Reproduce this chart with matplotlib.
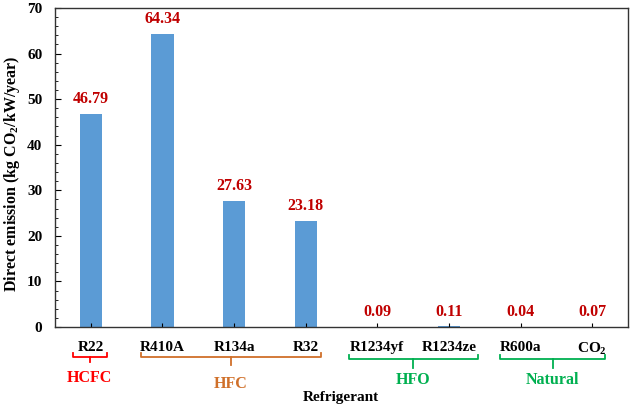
import matplotlib
matplotlib.use("Agg")
import matplotlib.pyplot as plt
from matplotlib.ticker import MultipleLocator
from matplotlib.transforms import blended_transform_factory

plt.rcParams['font.family'] = ['Liberation Serif', 'DejaVu Serif']
plt.rcParams['font.weight'] = 'bold'
plt.rcParams['mathtext.fontset'] = 'custom'
plt.rcParams['mathtext.rm'] = 'Liberation Serif:bold'
plt.rcParams['mathtext.bf'] = 'Liberation Serif:bold'
plt.rcParams['mathtext.it'] = 'Liberation Serif:bold'

categories = ['R22', 'R410A', 'R134a', 'R32', 'R1234yf', 'R1234ze', 'R600a', 'CO$_2$']
values = [46.79, 64.34, 27.63, 23.18, 0.09, 0.11, 0.04, 0.07]
value_labels = ['46.79', '64.34', '27.63', '23.18', '0.09', '0.11', '0.04', '0.07']
groups = ['HCFC', 'HFC', 'HFO', 'Natural']
group_colors = ['#FF0000', '#D0702A', '#00B050', '#00B050']
# bracket extents in data x units (left, right)
group_spans = [(-0.25, 0.22), (0.70, 3.21), (3.60, 5.40), (5.72, 7.18)]

fig = plt.figure(figsize=(6.3, 4.07), dpi=100)
ax = fig.add_axes([0.0873, 0.1966, 0.9095, 0.7837])

x = list(range(len(categories)))
ax.bar(x, values, width=0.31, color='#5B9BD5')
for xi, v, lab in zip(x, values, value_labels):
    ax.annotate(lab, (xi, v), xytext=(0, 5), textcoords='offset points',
                ha='center', va='bottom', color='#C00000', fontsize=11.5, fontweight='bold')

ax.set_xlim(-0.5, 7.5)
ax.set_ylim(0, 70)
ax.yaxis.set_major_locator(MultipleLocator(10))
ax.yaxis.set_minor_locator(MultipleLocator(2))
ax.set_xticks(x)
ax.set_xticklabels(categories, fontsize=11, fontweight='bold')
ax.tick_params(axis='y', which='major', direction='in', length=4, labelsize=11, pad=9)
ax.tick_params(axis='y', which='minor', direction='in', length=2.5)
ax.tick_params(axis='x', direction='in', length=3, pad=10)
for s in ax.spines.values():
    s.set_linewidth(1.0)
    s.set_color('#333333')

ax.set_ylabel('Direct emission (kg CO$_2$/kW/year)', fontsize=11.5, fontweight='bold')
ax.yaxis.set_label_coords(-0.058, 0.48)

tr = blended_transform_factory(ax.transData, fig.transFigure)
H = 407.0
def fy(py):
    return (H - py) / H

arm_top = [353, 353, 355, 355]
hline = [357, 357, 359, 359]
stem_bot = [362, 365, 368, 368]
text_y = [378, 384, 380, 380]
for g, c, (l, r), at, hl, sb, ty in zip(groups, group_colors, group_spans, arm_top, hline, stem_bot, text_y):
    m = (l + r) / 2
    ax.plot([l, l, r, r], [fy(at), fy(hl), fy(hl), fy(at)], transform=tr, color=c, lw=1.3, clip_on=False)
    ax.plot([m, m], [fy(hl), fy(sb)], transform=tr, color=c, lw=1.3, clip_on=False)
    ax.text(m, fy(ty), g, transform=tr, color=c, ha='center', va='center', fontsize=11.5, fontweight='bold')

fig.text(0.541, fy(398), 'Refrigerant', ha='center', va='center', fontsize=11, fontweight='bold')

fig.savefig('out.png', dpi=100)
